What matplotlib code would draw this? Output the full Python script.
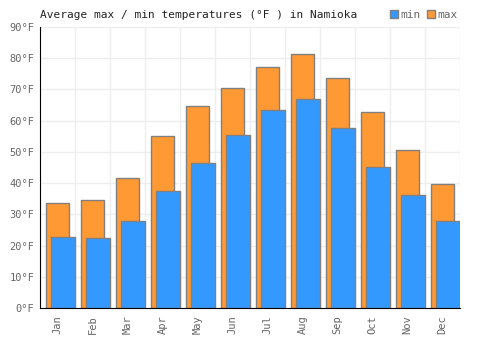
import matplotlib
matplotlib.use("Agg")
import matplotlib.pyplot as plt
from matplotlib.patches import Patch
import numpy as np

months = ["Jan", "Feb", "Mar", "Apr", "May", "Jun", "Jul", "Aug", "Sep", "Oct", "Nov", "Dec"]
t_max = [33.6, 34.5, 41.5, 55.0, 64.6, 70.4, 77.1, 81.3, 73.6, 62.7, 50.5, 39.6]
t_min = [22.7, 22.3, 27.8, 37.4, 46.5, 55.3, 63.5, 66.9, 57.6, 45.2, 36.1, 27.8]
yticks = [0, 10, 20, 30, 40, 50, 60, 70, 80, 90]

plt.rcParams['font.family'] = ['DejaVu Sans Mono']
fig = plt.figure(figsize=(5, 3.5), dpi=100)
ax = fig.add_axes([0.08, 0.12, 0.84, 0.803])

x = np.arange(len(months))
c_max = "#ff9933"
c_min = "#3399ff"
edge = "#808080"
ax.bar(x + 0.505, t_max, width=0.67, color=c_max, edgecolor=edge, linewidth=1, zorder=2)
ax.bar(x + 0.655, t_min, width=0.69, color=c_min, edgecolor=edge, linewidth=1, zorder=3)

ax.set_xlim(0, 12)
ax.set_ylim(0, 90)
ax.set_yticks(yticks)
ax.set_yticklabels([f"{v}°F" for v in yticks], color="#666666", fontsize=7.5)
ax.set_xticks(x + 0.5)
ax.set_xticklabels(months, rotation=90, color="#666666", fontsize=7.5)
ax.set_xticks(np.arange(0, 13), minor=True)
ax.tick_params(axis='both', which='both', length=0)
ax.tick_params(axis='y', pad=4)
ax.tick_params(axis='x', pad=5)
ax.grid(False)
for v in yticks:
    ax.axhline(v, color="#eeeeee", linewidth=1, zorder=0)
for v in range(0, 13):
    ax.axvline(v, color="#eeeeee", linewidth=1, zorder=0)
for s in ["top", "right"]:
    ax.spines[s].set_visible(False)
ax.spines["left"].set_color("black")
ax.spines["bottom"].set_color("black")
ax.spines["left"].set_zorder(5)
ax.spines["bottom"].set_zorder(5)

fig.text(0.08, 0.958, "Average max / min temperatures (°F ) in Namioka", fontsize=8, color="#222222", va="center", ha="left")
handles = [Patch(facecolor=c_min, edgecolor=edge, label="min"),
           Patch(facecolor=c_max, edgecolor=edge, label="max")]
leg = fig.legend(handles=handles, loc="center right", bbox_to_anchor=(0.915, 0.958), ncol=2, frameon=False,
                 fontsize=8, handlelength=0.7, handleheight=0.7, handletextpad=0.2, columnspacing=0.6,
                 borderpad=0, borderaxespad=0)
for t in leg.get_texts():
    t.set_color("#666666")

fig.savefig("out.png", dpi=100)
